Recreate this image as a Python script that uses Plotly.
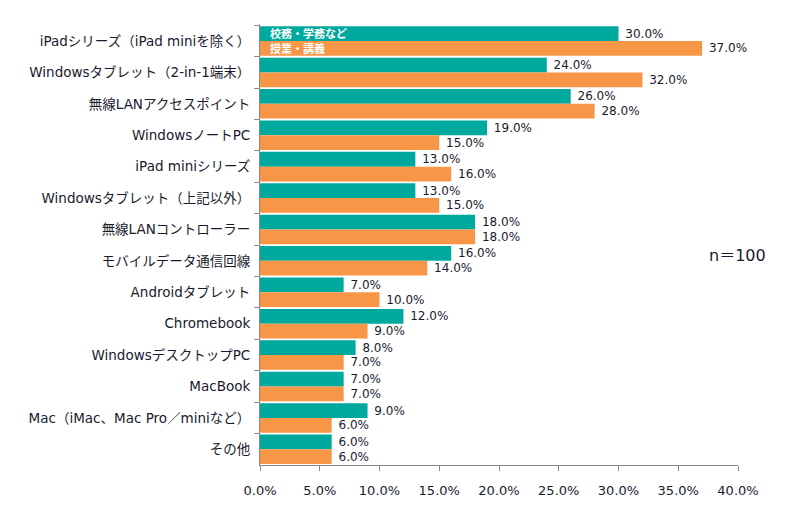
import plotly.graph_objects as go

# categories (top to bottom)
categories = [
    "iPadシリーズ（iPad miniを除く）",
    "Windowsタブレット（2-in-1端末）",
    "無線LANアクセスポイント",
    "WindowsノートPC",
    "iPad miniシリーズ",
    "Windowsタブレット（上記以外）",
    "無線LANコントローラー",
    "モバイルデータ通信回線",
    "Androidタブレット",
    "Chromebook",
    "WindowsデスクトップPC",
    "MacBook",
    "Mac（iMac、Mac Pro／miniなど）",
    "その他",
]
# 校務・学務など
school_affairs = [30, 24, 26, 19, 13, 13, 18, 16, 7, 12, 8, 7, 9, 6]
# 授業・講義
classes = [37, 32, 28, 15, 16, 15, 18, 14, 10, 9, 7, 7, 6, 6]

series_names = ["校務・学務など", "授業・講義"]
x_ticks = [0, 5, 10, 15, 20, 25, 30, 35, 40]

font_family = "DejaVu Sans, Noto Sans CJK JP"
text_col = "#1a1a2e"
teal = "#00A99D"
orange = "#F79646"

fig = go.Figure()
for vals, name, col in [(school_affairs, series_names[0], teal),
                        (classes, series_names[1], orange)]:
    fig.add_trace(go.Bar(
        y=categories, x=vals, name=name, orientation="h",
        marker=dict(color=col, line=dict(width=0)),
        text=[" " + f"{v:.1f}%" for v in vals],
        textposition="outside", cliponaxis=False, constraintext="none",
        textfont=dict(size=12, color=text_col, family=font_family),
    ))

# series names written inside the first pair of bars
for name, shift in [(series_names[0], 8), (series_names[1], -7)]:
    fig.add_annotation(x=0, y=categories[0], xanchor="left", yshift=shift,
                       text="<b>" + name + "</b>", showarrow=False, xshift=8,
                       font=dict(size=11, color="white",
                                 family="Noto Sans CJK JP"))

fig.add_annotation(x=1.062, y=categories[7], xref="paper", xanchor="right",
                   yshift=5, text="n＝100", showarrow=False,
                   font=dict(size=16, color=text_col, family=font_family))

fig.update_layout(
    width=800, height=520,
    margin=dict(l=252, r=70, t=16, b=63, autoexpand=False),
    barmode="group", bargap=0.06, bargroupgap=0,
    showlegend=False,
    plot_bgcolor="white", paper_bgcolor="white",
    font=dict(family=font_family, color=text_col, size=12),
)
fig.update_yaxes(autorange="reversed", showline=True, linecolor="#888888",
                 ticks="outside", tickson="boundaries", ticklen=5,
                 tickcolor="#888888", showgrid=False, automargin=False,
                 tickfont=dict(size=13.5, color=text_col), ticklabelstandoff=6)
fig.update_xaxes(range=[0, 40], tickvals=x_ticks,
                 ticktext=[f"{v:.1f}%" for v in x_ticks],
                 showline=True, linecolor="#888888", ticks="outside",
                 ticklen=5, tickcolor="#888888", showgrid=False,
                 automargin=False,
                 tickfont=dict(size=13, color=text_col), ticklabelstandoff=8)

fig.write_html("out.html")
